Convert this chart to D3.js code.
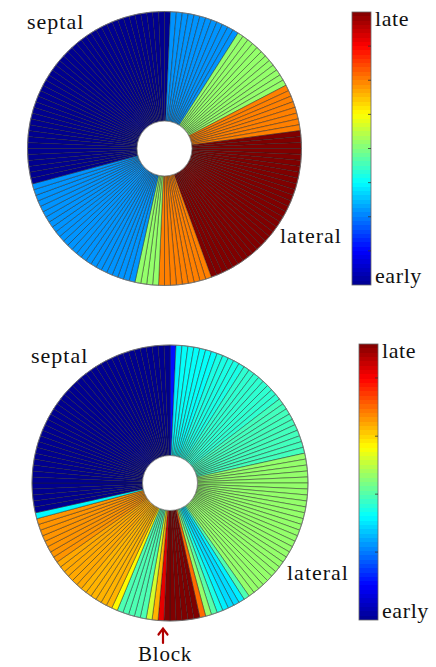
<!DOCTYPE html>
<html>
<head>
<meta charset="utf-8">
<script src="https://cdn.jsdelivr.net/npm/d3@7"></script>
<style>
  html, body { margin: 0; padding: 0; background: #fff; }
  svg { display: block; }
  text { font-family: "Liberation Serif", "DejaVu Serif", serif; fill: #111; }
</style>
</head>
<body>
<svg id="chart" width="436" height="667"></svg>
<script>
// ---- data: normalized activation time per wedge (0 = early, 1 = late), clockwise from top ----
const topValues = [
  0, 0.27, 0.27, 0.27, 0.27, 0.27, 0.27, 0.27, 0.27, 0.27, 0.27, 0.27,
  0.27, 0.52, 0.52, 0.52, 0.52, 0.52, 0.52, 0.52, 0.52, 0.52, 0.52, 0.52,
  0.52, 0.75, 0.75, 0.75, 0.75, 0.75, 0.75, 0.75, 0.75, 1, 1, 1,
  1, 1, 1, 1, 1, 1, 1, 1, 1, 1, 1, 1,
  1, 1, 1, 1, 1, 1, 1, 1, 1, 1, 1, 1,
  1, 1, 1, 1, 0.75, 0.75, 0.75, 0.75, 0.75, 0.75, 0.75, 0.75,
  0.75, 0.52, 0.52, 0.52, 0.52, 0.27, 0.27, 0.27, 0.27, 0.27, 0.27, 0.27,
  0.27, 0.27, 0.27, 0.27, 0.27, 0.27, 0.27, 0.27, 0.27, 0.27, 0.27, 0.27,
  0.27, 0.27, 0.27, 0.27, 0.27, 0.27, 0, 0, 0, 0, 0, 0,
  0, 0, 0, 0, 0, 0, 0, 0, 0, 0, 0, 0,
  0, 0, 0, 0, 0, 0, 0, 0, 0, 0, 0, 0,
  0, 0, 0, 0, 0, 0, 0, 0, 0, 0, 0, 0
];
const bottomValues = [
  0.14, 0.36, 0.38, 0.38, 0.38, 0.38, 0.38, 0.38, 0.40, 0.40, 0.40, 0.40,
  0.40, 0.42, 0.42, 0.42, 0.42, 0.42, 0.42, 0.42, 0.42, 0.44, 0.44, 0.44,
  0.44, 0.44, 0.44, 0.44, 0.44, 0.44, 0.44, 0.52, 0.52, 0.52, 0.52, 0.52,
  0.52, 0.52, 0.52, 0.52, 0.52, 0.52, 0.52, 0.52, 0.52, 0.52, 0.52, 0.52,
  0.52, 0.52, 0.52, 0.52, 0.52, 0.52, 0.52, 0.52, 0.52, 0.52, 0.45, 0.36,
  0.34, 0.34, 0.36, 0.40, 0.46, 0.52, 0.77, 1, 1, 1, 1, 1,
  1, 0.9, 0.70, 0.58, 0.45, 0.45, 0.45, 0.45, 0.45, 0.63, 0.70, 0.70,
  0.70, 0.70, 0.70, 0.70, 0.71, 0.71, 0.71, 0.71, 0.71, 0.71, 0.73, 0.73,
  0.73, 0.73, 0.73, 0.73, 0.73, 0.73, 0.37, 0, 0, 0, 0, 0,
  0, 0, 0, 0, 0, 0, 0, 0, 0, 0, 0, 0,
  0, 0, 0, 0, 0, 0, 0, 0, 0, 0, 0, 0,
  0, 0, 0, 0, 0, 0, 0, 0, 0, 0, 0, 0
];
// colorbar tick positions (normalized) and end labels
const topColorbarTicks = [0.125, 0.25, 0.375, 0.5, 0.625, 0.75, 0.875];
const bottomColorbarTicks = [0.246, 0.456, 0.666, 0.877];
const colorbarLabels = ["early", "late"];
const regionLabels = ["septal", "lateral"];
const blockLabel = "Block";

// ---- jet colormap ----
const jet = d3.scaleLinear()
  .domain([0, 0.125, 0.375, 0.625, 0.875, 1])
  .range(["#000090", "#0000ff", "#00ffff", "#ffff00", "#ff0000", "#800000"])
  .clamp(true);

const svg = d3.select("#chart");
const defs = svg.append("defs");

function drawRing(values, cx, cy, rOuter, rInner) {
  const n = values.length;
  const angle = d3.scaleLinear().domain([0, n]).range([0, 2 * Math.PI]);
  const arc = d3.arc().innerRadius(rInner).outerRadius(rOuter);
  const g = svg.append("g").attr("transform", `translate(${cx},${cy})`);
  g.selectAll("path")
    .data(values)
    .join("path")
    .attr("d", (d, i) => arc({ startAngle: angle(i), endAngle: angle(i + 1) }))
    .attr("fill", d => jet(d))
    .attr("stroke", "#222")
    .attr("stroke-opacity", 0.8)
    .attr("stroke-width", 0.55);
  g.append("circle").attr("r", rOuter).attr("fill", "none")
    .attr("stroke", "#777").attr("stroke-width", 0.8);
  g.append("circle").attr("r", rInner).attr("fill", "#fff")
    .attr("stroke", "#777").attr("stroke-width", 0.8);
}

function drawColorbar(id, x, yTop, yBottom, w, ticks) {
  const grad = defs.append("linearGradient").attr("id", id)
    .attr("x1", 0).attr("y1", 1).attr("x2", 0).attr("y2", 0);
  const steps = 64;
  d3.range(steps).forEach(k => {
    const c = jet((k + 0.5) / steps);
    grad.append("stop").attr("offset", k / steps).attr("stop-color", c);
    grad.append("stop").attr("offset", (k + 1) / steps).attr("stop-color", c);
  });
  const y = d3.scaleLinear().domain([0, 1]).range([yBottom, yTop]);
  svg.append("rect").attr("x", x).attr("y", yTop).attr("width", w)
    .attr("height", yBottom - yTop).attr("fill", `url(#${id})`)
    .attr("stroke", "#666").attr("stroke-width", 0.8);
  svg.append("g").selectAll("line").data(ticks).join("line")
    .attr("x1", x + w - 3).attr("x2", x + w)
    .attr("y1", d => y(d)).attr("y2", d => y(d))
    .attr("stroke", "#333").attr("stroke-width", 0.8);
  svg.append("text").attr("x", x + w + 4).attr("y", yTop + 14)
    .attr("font-size", 22).attr("letter-spacing", 0.6).text(colorbarLabels[1]);
  svg.append("text").attr("x", x + w + 4).attr("y", yBottom - 2)
    .attr("font-size", 22).attr("letter-spacing", 0.6).text(colorbarLabels[0]);
}

// top ring
drawRing(topValues, 164.5, 148.5, 137, 27.5);
drawColorbar("cbTop", 352, 12, 285, 19, topColorbarTicks);
svg.append("text").attr("x", 27).attr("y", 29).attr("font-size", 22)
  .attr("letter-spacing", 1).text(regionLabels[0]);
svg.append("text").attr("x", 280).attr("y", 243).attr("font-size", 22)
  .attr("letter-spacing", 1).text(regionLabels[1]);

// bottom ring
drawRing(bottomValues, 170, 483, 138, 27.5);
drawColorbar("cbBottom", 359, 344, 620, 19, bottomColorbarTicks);
svg.append("text").attr("x", 31).attr("y", 363).attr("font-size", 22)
  .attr("letter-spacing", 1).text(regionLabels[0]);
svg.append("text").attr("x", 287).attr("y", 580).attr("font-size", 22)
  .attr("letter-spacing", 1).text(regionLabels[1]);

// block marker
const arrow = svg.append("g").attr("stroke", "#b00000").attr("fill", "none")
  .attr("stroke-width", 2.2).attr("stroke-linecap", "round");
arrow.append("line").attr("x1", 163).attr("y1", 643).attr("x2", 163).attr("y2", 629);
arrow.append("path").attr("d", "M158.5,634.5 L163,628.5 L167.5,634.5");
svg.append("text").attr("x", 138).attr("y", 661).attr("font-size", 21)
  .attr("letter-spacing", 0.8).text(blockLabel);
</script>
</body>
</html>
